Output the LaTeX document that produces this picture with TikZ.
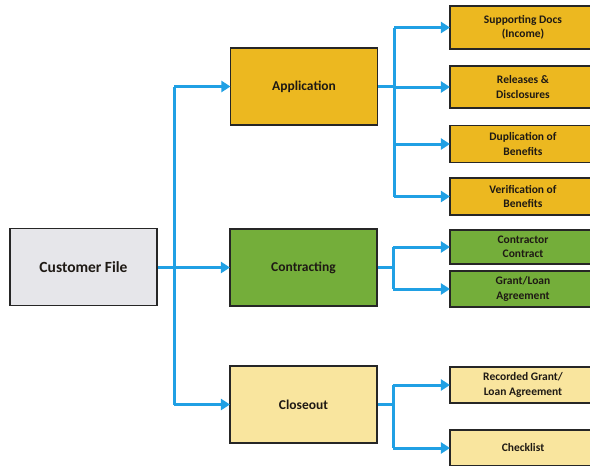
\documentclass[tikz,border=0pt]{standalone}
\usepackage{fontspec}
\setmainfont{Carlito}
\usetikzlibrary{arrows.meta}
\definecolor{appc}{RGB}{236,184,32}
\definecolor{conc}{RGB}{116,174,58}
\definecolor{cloc}{RGB}{249,229,158}
\definecolor{cfc}{RGB}{230,230,234}
\definecolor{bluec}{RGB}{32,160,228}
\definecolor{txt}{RGB}{30,25,20}
\tikzset{
  box/.style={draw=black!85, line width=1.1pt, text=txt, font=\bfseries, align=center, inner sep=0pt},
  big/.style={box, minimum width=147pt, minimum height=77pt, font=\fontsize{13.5}{15}\selectfont\bfseries},
  child/.style={box, minimum width=146pt, font=\fontsize{11.5}{14.5}\selectfont\bfseries},
  link/.style={draw=bluec, line width=3pt},
  arr/.style={link, -{Triangle[length=9pt,width=11pt]}, shorten >=-0.5pt}
}
\begin{document}
\begin{tikzpicture}[x=1pt,y=-1pt]
\useasboundingbox (0,0) rectangle (590,466);
\begin{scope}
\clip (0,0) rectangle (590,466);
% main nodes
\node[big, fill=cfc, font=\fontsize{15.5}{17}\selectfont\bfseries] (cf) at (83.5,267) {Customer File};
\node[big, fill=appc] (app) at (304,86.5) {Application};
\node[big, fill=conc] (con) at (303.5,267.5) {Contracting};
\node[big, fill=cloc] (clo) at (303.5,404.5) {Closeout};
% children
\node[child, fill=appc, minimum height=43pt] (sd) at (523,27.5) {Supporting Docs\\(Income)};
\node[child, fill=appc, minimum height=42pt] (rd) at (523,87) {Releases \&\\Disclosures};
\node[child, fill=appc, minimum height=37pt] (db) at (523,144) {Duplication of\\Benefits};
\node[child, fill=appc, minimum height=37pt] (vb) at (523,196.5) {Verification of\\Benefits};
\node[child, fill=conc, minimum height=34pt] (cc) at (523,247) {Contractor\\Contract};
\node[child, fill=conc, minimum height=36pt] (gl) at (523,289) {Grant/Loan\\Agreement};
\node[child, fill=cloc, minimum height=36pt] (rg) at (523,385) {Recorded Grant/\\Loan Agreement};
\node[child, fill=cloc, minimum height=36pt] (ck) at (523,448) {Checklist};
% junction coordinates
\coordinate (t0) at (174,0);
\coordinate (ta) at (394,0);
\coordinate (tc) at (393,0);
% trunk
\draw[link] (cf.east) -- (t0 |- cf.east);
\draw[link] (t0 |- app.west) -- (t0 |- clo.west);
\draw[arr] (t0 |- app.west) -- (app.west);
\draw[arr] (t0 |- con.west) -- (con.west);
\draw[arr] (t0 |- clo.west) -- (clo.west);
% application branch
\draw[link] (app.east) -- (ta |- app.east);
\draw[link] (ta |- sd.west) -- (ta |- vb.west);
\draw[arr] (ta |- sd.west) -- (sd.west);
\draw[arr] (ta |- rd.west) -- (rd.west);
\draw[arr] (ta |- db.west) -- (db.west);
\draw[arr] (ta |- vb.west) -- (vb.west);
% contracting branch
\draw[link] (con.east) -- (tc |- con.east);
\draw[link] (tc |- cc.west) -- (tc |- gl.west);
\draw[arr] (tc |- cc.west) -- (cc.west);
\draw[arr] (tc |- gl.west) -- (gl.west);
% closeout branch
\draw[link] (clo.east) -- (tc |- clo.east);
\draw[link] (tc |- rg.west) -- (tc |- ck.west);
\draw[arr] (tc |- rg.west) -- (rg.west);
\draw[arr] (tc |- ck.west) -- (ck.west);
\end{scope}
\end{tikzpicture}
\end{document}
